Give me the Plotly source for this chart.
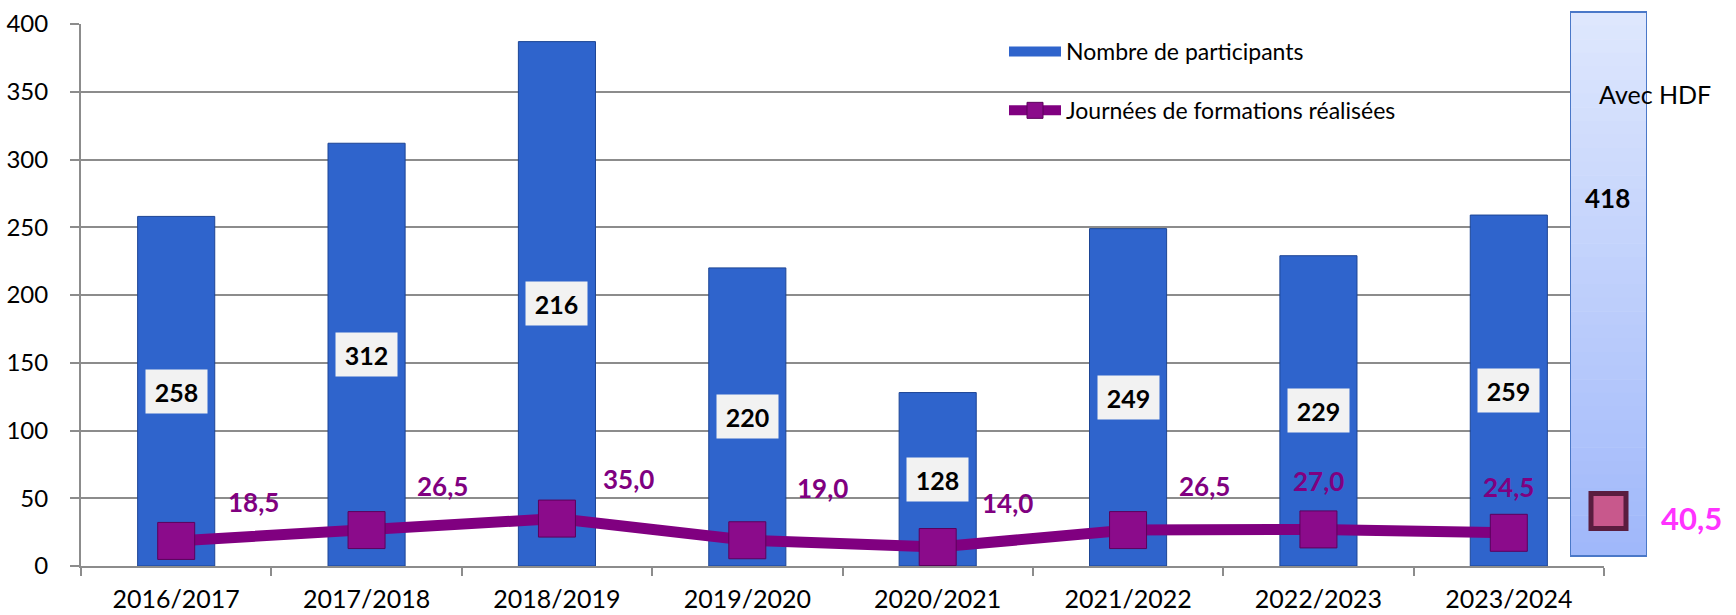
import plotly.graph_objects as go

# ---------------- data ----------------
categories = ["2016/2017", "2017/2018", "2018/2019", "2019/2020",
              "2020/2021", "2021/2022", "2022/2023", "2023/2024"]
participants_bar = [258, 312, 387, 220, 128, 249, 229, 259]      # drawn bar heights
participants_label = ["258", "312", "216", "220", "128", "249", "229", "259"]  # printed labels
journees = [18.5, 26.5, 35.0, 19.0, 14.0, 26.5, 27.0, 24.5]
journees_label = ["18,5", "26,5", "35,0", "19,0", "14,0", "26,5", "27,0", "24,5"]
hdf_category = ["Avec HDF"]
hdf_participants = 418
hdf_journees = [40.5]
hdf_journees_label = "40,5"
y_ticks = [0, 50, 100, 150, 200, 250, 300, 350, 400]
y_max = 400

# ---------------- layout constants ----------------
W, H = 1736, 615
L, R, T, B = 81, 0, 10, 49
PW, PH = W - L - R, H - T - B
AX_TOP = 24          # pixel row of the y = 400 gridline
AX_RIGHT = 1604      # pixel column where the category axis ends
BOX = (1570, 1647, 12, 556)   # HDF column: left, right, top, bottom (pixels)
PX_PER_UNIT = (H - B - AX_TOP) / y_max

def px_x(px):
    return (px - L) / PW

def px_y(py):
    return (H - B - py) / PH

def px_to_val(py):
    return (H - B - py) / PX_PER_UNIT

# label offsets (pixels) for the line labels
label_dx = [77, 76, 72, 75, 70, 76, 0, 0]
label_dy = [39, 44, 40, 52, 44, 44, 48, 46]

FONT = "Lato"
PURPLE = "#800080"
BLUE = "#2f64cc"
GREY = "#8c8c8c"

fig = go.Figure()

fig.add_trace(go.Bar(
    x=categories, y=participants_bar, name="Nombre de participants",
    marker=dict(color=BLUE, line=dict(color="#1d4595", width=1)),
    width=0.405, showlegend=False,
))
# legend entry for the bars (drawn as a flat bar symbol)
fig.add_trace(go.Scatter(
    x=[None], y=[None], name="Nombre de participants", mode="lines",
    line=dict(color=BLUE, width=14), legendgroup="a", hoverinfo="skip",
))

fig.add_trace(go.Scatter(
    x=categories, y=journees, name="Journées de formations réalisées",
    mode="lines+markers", legendgroup="b",
    line=dict(color=PURPLE, width=11),
    marker=dict(symbol="square", size=37, color="#8b0b8b",
                line=dict(color="#5c005c", width=1)),
))

fig.add_trace(go.Scatter(
    x=hdf_category, y=hdf_journees, xaxis="x2", yaxis="y2", mode="markers",
    marker=dict(symbol="square", size=35, color="#c8588c",
                line=dict(color="#5a1d3f", width=5)),
    showlegend=False, cliponaxis=False,
))

annotations = []
for c, h, t in zip(categories, participants_bar, participants_label):
    annotations.append(dict(
        x=c, y=h / 2, xref="x", yref="y", text=t, showarrow=False,
        font=dict(family=FONT, size=25, color="black", weight="bold"),
        bgcolor="#f2f2f2", width=61, height=43, borderpad=0,
    ))
for i, (c, v, t) in enumerate(zip(categories, journees, journees_label)):
    annotations.append(dict(
        x=c, y=v, xref="x", yref="y", text=t, showarrow=False,
        xshift=label_dx[i], yshift=label_dy[i],
        font=dict(family=FONT, size=26, color=PURPLE, weight="bold"),
    ))
annotations.append(dict(
    x=hdf_category[0], y=hdf_journees[0], xref="x2", yref="y2",
    text=hdf_journees_label, showarrow=False, xshift=83, yshift=-7,
    font=dict(family=FONT, size=31, color="#ff33ff", weight="bold"),
))
annotations.append(dict(
    x=px_x(1655), y=px_y(94), xref="paper", yref="paper", text="Avec HDF",
    xanchor="center", yanchor="middle",
    showarrow=False, font=dict(family=FONT, size=25, color="black"),
))
annotations.append(dict(
    x=px_x(1607), y=px_y(198), xref="paper", yref="paper",
    xanchor="center", yanchor="middle",
    text=str(hdf_participants), showarrow=False,
    font=dict(family=FONT, size=26, color="black", weight="bold"),
))

# gradient box "Avec HDF"
shapes = []
bx0, bx1, by0, by1 = BOX
n = 40
top = (222, 231, 253)
bot = (160, 184, 250)
for k in range(n):
    f = k / (n - 1)
    col = tuple(round(top[j] + (bot[j] - top[j]) * f) for j in range(3))
    ya = by0 + (by1 - by0) * k / n
    yb = by0 + (by1 - by0) * (k + 1) / n + 0.6
    shapes.append(dict(
        type="rect", xref="x2", yref="y2",
        x0=-0.5, x1=0.5, y0=px_to_val(min(yb, by1)), y1=px_to_val(ya),
        fillcolor="rgb(%d,%d,%d)" % col, line=dict(width=0), layer="below",
    ))
shapes.append(dict(
    type="rect", xref="x2", yref="y2",
    x0=-0.5, x1=0.5, y0=px_to_val(by1), y1=px_to_val(by0),
    line=dict(color="#4a78c8", width=2), layer="below",
))

fig.update_layout(
    width=W, height=H,
    margin=dict(l=L, r=R, t=T, b=B, pad=0, autoexpand=False),
    paper_bgcolor="white", plot_bgcolor="white",
    font=dict(family=FONT, size=24, color="black"),
    showlegend=True,
    legend=dict(
        x=px_x(1004), y=px_y(30), xanchor="left", yanchor="top",
        font=dict(family=FONT, size=23, color="black"),
        bgcolor="rgba(0,0,0,0)", itemwidth=52, tracegroupgap=26,
        traceorder="grouped",
    ),
    bargap=0.6,
    xaxis=dict(
        type="category", domain=[0, px_x(AX_RIGHT)],
        tickson="boundaries", ticks="outside", ticklen=8,
        tickcolor=GREY, tickwidth=2, showline=True, linecolor=GREY,
        linewidth=2, showgrid=False, tickfont=dict(family=FONT, size=25),
        ticklabelstandoff=10, range=[-0.5, 7.5], fixedrange=True,
        anchor="y", automargin=False,
    ),
    yaxis=dict(
        domain=[0, px_y(AX_TOP)], anchor="x",
        range=[0, y_max], tickvals=y_ticks, ticks="outside", ticklen=9,
        tickcolor=GREY, tickwidth=2, showline=True, linecolor=GREY,
        linewidth=2, showgrid=True, gridcolor=GREY, gridwidth=1.5,
        zeroline=False, tickfont=dict(family=FONT, size=24),
        ticklabelstandoff=17, fixedrange=True, automargin=False,
    ),
    xaxis2=dict(
        type="category", domain=[px_x(bx0), px_x(bx1)], anchor="y2",
        range=[-0.5, 0.5], visible=False, fixedrange=True, automargin=False,
    ),
    yaxis2=dict(
        domain=[0, 1], anchor="x2", range=[0, px_to_val(T)],
        visible=False, showgrid=False, fixedrange=True, automargin=False,
    ),
    annotations=annotations,
    shapes=shapes,
)

fig.write_html("out.html")
